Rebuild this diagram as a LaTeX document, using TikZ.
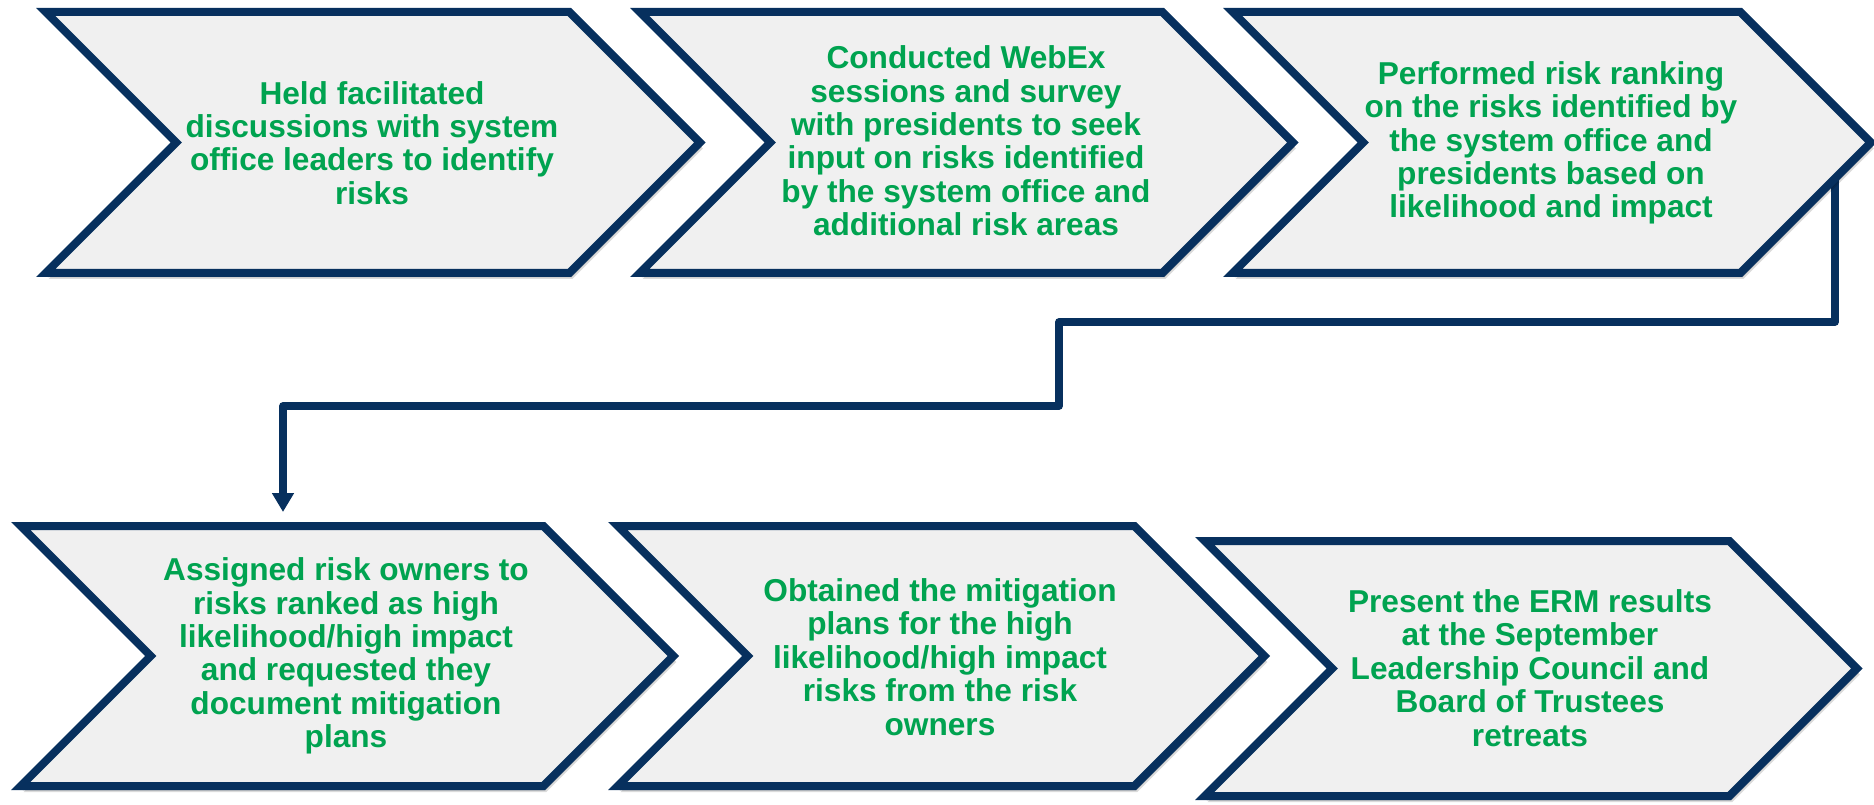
\documentclass[tikz,border=0pt]{standalone}
\usepackage{fontspec}
\setmainfont{Liberation Sans}
\usetikzlibrary{arrows.meta,backgrounds}

\definecolor{navy}{RGB}{7,48,94}
\definecolor{panel}{RGB}{240,240,240}
\definecolor{leaf}{RGB}{0,163,80}

\tikzset{
  chevframe/.style={draw=navy, fill=panel, line width=0.8mm, line join=miter},
  chevshade/.style={fill=black, opacity=0.14},
  steptext/.style={text=leaf, align=center, inner sep=0pt,
    font=\fontsize{9}{9.5}\selectfont\bfseries},
  flowline/.style={draw=navy, line width=0.75mm, line join=round,
    -{Triangle[length=1.9mm,width=2.1mm]}},
}

% #1 name, #2 left x, #3 right x of the straight part, #4 top y, #5 bottom y (outer edges)
\newcommand\chevbox[5]{%
  \pgfmathsetmacro\cL{#2+9.66}%
  \pgfmathsetmacro\cR{#3-1.66}%
  \pgfmathsetmacro\cT{#4+4}%
  \pgfmathsetmacro\cB{#5-4}%
  \pgfmathsetmacro\cM{(#4+#5)/2}%
  \pgfmathsetmacro\cD{(#5-#4)/2}%
  \pgfmathsetmacro\cTip{#3-5.66+\cD}%
  \pgfmathsetmacro\cNotch{#2+5.66+\cD}%
  \foreach \sx/\sy in {1/2.5,2/4.5,3/6}{
    \fill[chevshade] (\cL+\sx,\cT+\sy) -- (\cR+\sx,\cT+\sy) -- (\cTip+\sx,\cM+\sy)
      -- (\cR+\sx,\cB+\sy) -- (\cL+\sx,\cB+\sy) -- (\cNotch+\sx,\cM+\sy) -- cycle;
  }
  \draw[chevframe] (\cL,\cT) -- (\cR,\cT) -- (\cTip,\cM) -- (\cR,\cB)
    -- (\cL,\cB) -- (\cNotch,\cM) -- cycle;
}

\begin{document}
\begin{tikzpicture}[x=0.1mm, y=-0.1mm]
  \useasboundingbox (0,0) rectangle (1874,805);

  % top row
  \chevbox{c1}{36}{571}{8}{277}
  \chevbox{c2}{630}{1164}{8}{277}
  \chevbox{c3}{1223}{1742}{8}{277}
  % bottom row
  \chevbox{c4}{11}{545}{522}{790}
  \chevbox{c5}{608}{1136}{522}{790}
  \chevbox{c6}{1195}{1731}{537}{800}

  \node[steptext] (t1) at (372,143) {Held facilitated\\discussions with system\\office leaders to identify\\risks};
  \node[steptext] (t2) at (966,141) {Conducted WebEx\\sessions and survey\\with presidents to seek\\input on risks identified\\by the system office and\\additional risk areas};
  \node[steptext] (t3) at (1551,143) {Performed risk ranking\\on the risks identified by\\the system office and\\presidents based on\\likelihood and impact};
  \node[steptext] (t4) at (346,656) {Assigned risk owners to\\risks ranked as high\\likelihood/high impact\\and requested they\\document mitigation\\plans};
  \node[steptext] (t5) at (940,657) {Obtained the mitigation\\plans for the high\\likelihood/high impact\\risks from the risk\\owners};
  \node[steptext] (t6) at (1530,668) {Present the ERM results\\at the September\\Leadership Council and\\Board of Trustees\\retreats};

  % link from the end of the top row down to the start of the bottom row
  \coordinate (c3-exit) at (1835,175);
  \coordinate (j1) at (1059,322);
  \coordinate (j2) at (283,406);
  \coordinate (c4-in) at (283,512);
  \begin{scope}[on background layer]
    \draw[flowline] (c3-exit) |- (j1) |- (j2) -- (c4-in);
  \end{scope}
\end{tikzpicture}
\end{document}
